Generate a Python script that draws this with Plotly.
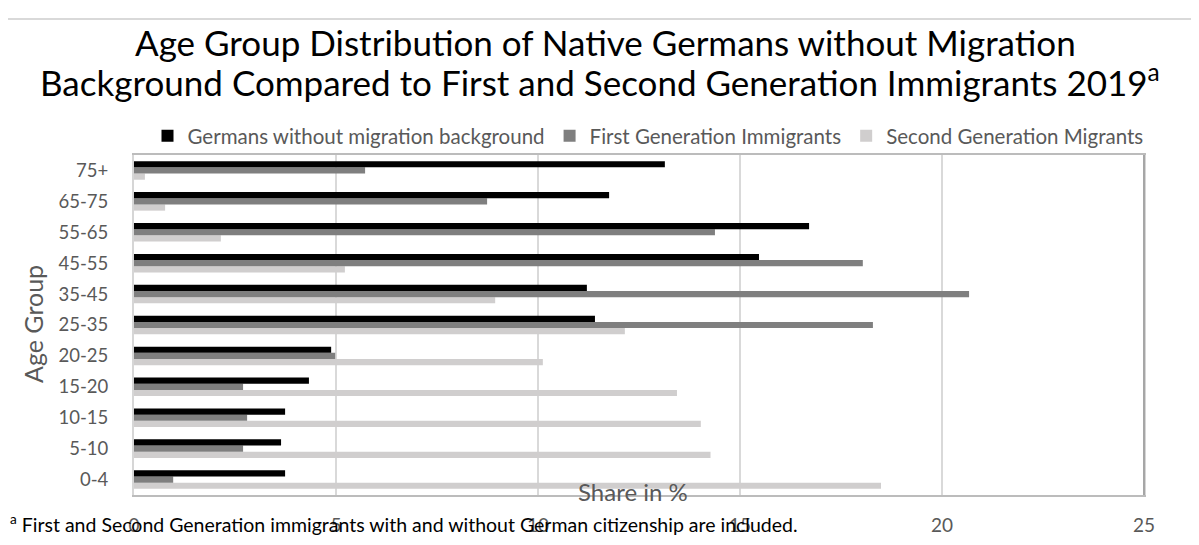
import plotly.graph_objects as go

age_groups = ["0-4", "5-10", "10-15", "15-20", "20-25", "25-35", "35-45", "45-55", "55-65", "65-75", "75+"]
germans_no_mig = [3.74, 3.64, 3.74, 4.33, 4.88, 11.41, 11.21, 15.47, 16.71, 11.76, 13.14]
first_gen = [0.97, 2.70, 2.80, 2.70, 4.98, 18.29, 20.67, 18.04, 14.38, 8.74, 5.72]
second_gen = [18.49, 14.27, 14.03, 13.44, 10.12, 12.15, 8.94, 5.22, 2.15, 0.77, 0.27]

series_names = ["Germans without migration background", "First Generation Immigrants", "Second Generation Migrants"]
series_colors = ["#000000", "#7f7f7f", "#d0cece"]
x_ticks = [0, 5, 10, 15, 20, 25]

FONT = "Lato, Carlito, Open Sans, sans-serif"
GREY_TXT = "#595959"

W, H = 1199, 545
OFF = 8  # page body margin
L, R, T, B = 134 - OFF, 1144 - OFF, 155 - OFF, 495 - OFF


def px(xs):
    return (xs - OFF - L) / (R - L)


def py(ys):
    return (B - (ys - OFF)) / (B - T)


fig = go.Figure()
for name, vals, col in reversed(list(zip(series_names, [germans_no_mig, first_gen, second_gen], series_colors))):
    fig.add_trace(go.Bar(y=age_groups, x=vals, name=name, orientation="h",
                         marker=dict(color=col, line=dict(width=0))))

fig.update_layout(
    width=W, height=H,
    margin=dict(l=L, r=W - R, t=T, b=H - B),
    paper_bgcolor="white", plot_bgcolor="white",
    barmode="group", bargap=0.40, bargroupgap=0,
    font=dict(family=FONT, color=GREY_TXT, size=18),
    legend=dict(orientation="h", traceorder="reversed", x=px(648), xanchor="center",
                y=py(136), yanchor="middle", font=dict(size=20.5, color=GREY_TXT),
                bgcolor="rgba(0,0,0,0)", itemwidth=30, tracegroupgap=0),
    showlegend=True,
)

fig.update_xaxes(range=[0, 25], tickvals=x_ticks, showgrid=True, gridcolor="#d9d9d9", gridwidth=2,
                 zeroline=False, showline=True, linecolor="#bcbcbc", linewidth=2, mirror=True,
                 ticks="", tickfont=dict(size=19, color=GREY_TXT), ticklabelstandoff=12,
                 fixedrange=True)
fig.update_yaxes(showgrid=False, showline=True, linecolor="#d6d6d6", linewidth=2, mirror=True,
                 ticks="", tickfont=dict(size=18.5, color=GREY_TXT), ticklabelstandoff=20,
                 fixedrange=True)

# title (two lines, tight spacing)
fig.add_annotation(text="Age Group Distribution of Native Germans without Migration",
                   xref="paper", yref="paper", x=px(605), y=py(42), xanchor="center", yanchor="middle",
                   showarrow=False, font=dict(size=35, color="#000000"))
fig.add_annotation(text="Background Compared to First and Second Generation Immigrants 2019<sup>a</sup>",
                   xref="paper", yref="paper", x=px(600), y=py(80), xanchor="center", yanchor="middle",
                   showarrow=False, font=dict(size=35, color="#000000"))

fig.add_annotation(text="Age Group", xref="paper", yref="paper", x=px(33), y=py(324),
                   xanchor="center", yanchor="middle", textangle=-90, showarrow=False,
                   font=dict(size=25, color=GREY_TXT))
fig.add_annotation(text="Share in %", xref="paper", yref="paper", x=px(633), y=py(491),
                   xanchor="center", yanchor="middle", showarrow=False,
                   font=dict(size=24, color=GREY_TXT))
fig.add_annotation(text="<sup>a</sup> First and Second Generation immigrants with and without German citizenship are included.",
                   xref="paper", yref="paper", x=px(8), y=py(523),
                   xanchor="left", yanchor="middle", showarrow=False,
                   font=dict(size=19.5, color="#000000"))

# chart-area border (top and left visible)
fig.add_shape(type="rect", xref="paper", yref="paper", x0=px(7), x1=px(1230), y0=py(19), y1=py(580),
              line=dict(color="#d9d9d9", width=2), layer="below")
# darker right edge of plot area
fig.add_shape(type="line", xref="paper", yref="paper", x0=1, x1=1, y0=0, y1=1,
              line=dict(color="#a6a6a6", width=2))

fig.write_html("out.html")
